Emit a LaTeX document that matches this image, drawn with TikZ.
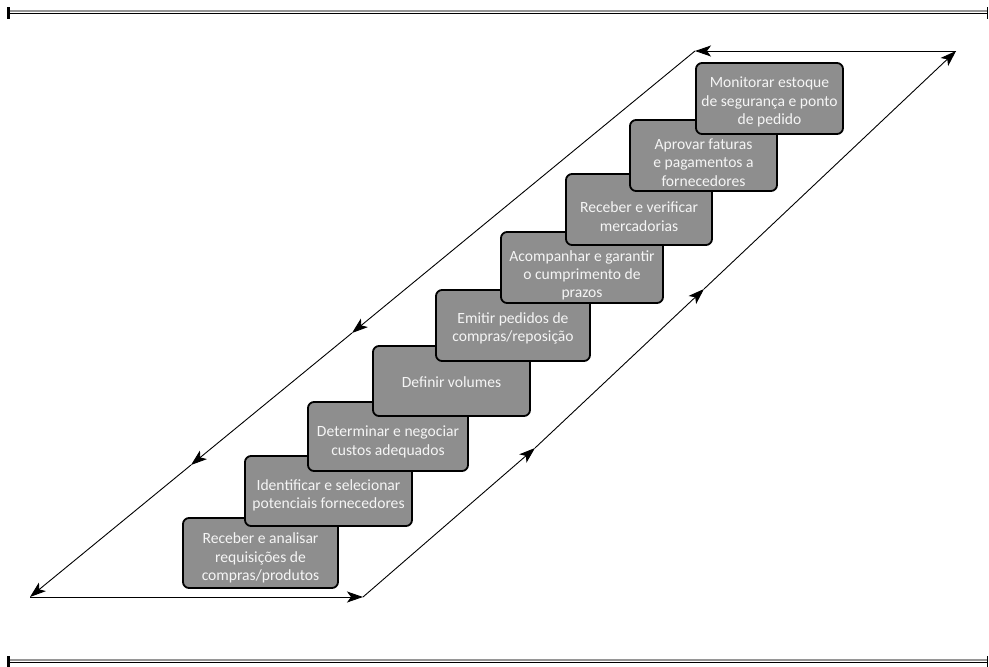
\documentclass[tikz,border=0pt]{standalone}
\usepackage{fontspec}
\setmainfont{Carlito}
\usetikzlibrary{arrows.meta}
\definecolor{boxgray}{RGB}{142,142,142}
\definecolor{rulegray}{RGB}{150,150,150}
\tikzset{
  stepbox/.style={draw=black, line width=1.8pt, fill=boxgray, rounded corners=6pt, inner sep=0pt},
  steptext/.style={text=white!96!black, align=center, inner sep=0pt,
    font=\fontsize{15.6}{18.3}\selectfont},
  arr/.style={draw=black, line width=0.9pt, -{Stealth[length=16pt,width=11pt,inset=4pt]}},
}
\newcommand{\mkbox}[5]{% name, x1,y1,x2,y2
  \node[stepbox, minimum width=#4pt-#2pt, minimum height=#5pt-#3pt] (#1) at ({(#2+#4)/2},{(#3+#5)/2}) {};}
\newcommand{\mktext}[4]{% name, box, shift, text
  \node[steptext] (#1) at ([yshift=-#3pt]#2.center) {#4};}
\begin{document}
\begin{tikzpicture}[x=1pt,y=-1pt]
\useasboundingbox (0,0) rectangle (989,667);
% rules
\coordinate (TL) at (8.5,12.5); \coordinate (TR) at (987.5,12.5);
\coordinate (BL) at (8.5,661.5); \coordinate (BR) at (987.5,661.5);
\draw[rulegray, line width=2pt] ([yshift=1.2pt]TL) -- ([yshift=1.2pt]TR);
\draw[black, line width=1.3pt] ([yshift=-1.2pt]TL) -- ([yshift=-1.2pt]TR);
\draw[rulegray, line width=2pt] ([yshift=1.2pt]BL) -- ([yshift=1.2pt]BR);
\draw[black, line width=1.3pt] ([yshift=-1.2pt]BL) -- ([yshift=-1.2pt]BR);
\draw[black, line width=2.5pt] ([yshift=-6pt]TL) -- ([yshift=6pt]TL);
\draw[black, line width=1.5pt] ([yshift=-6pt]TR) -- ([yshift=6pt]TR);
\draw[black, line width=2.5pt] ([yshift=-6pt]BL) -- ([yshift=6pt]BL);
\draw[black, line width=1.5pt] ([yshift=-6pt]BR) -- ([yshift=6pt]BR);
% boxes (lower first, upper drawn over)
\mkbox{b1}{183}{518}{338}{588}
\mkbox{b2}{245}{456}{412}{526}
\mkbox{b3}{308}{402}{468}{471}
\mkbox{b4}{373}{346}{530}{416}
\mkbox{b5}{436}{290}{590}{361}
\mkbox{b6}{501}{232}{663}{303}
\mkbox{b7}{566}{174}{712}{245}
\mkbox{b8}{630}{120}{777}{191}
\mkbox{b9}{696}{63}{843}{134}
% texts
\mktext{t1}{b1}{5}{Receber e analisar\\requisições de\\compras/produtos}
\mktext{t2}{b2}{4.5}{Identificar e selecionar\\potenciais fornecedores}
\mktext{t3}{b3}{5.5}{Determinar e negociar\\custos adequados}
\mktext{t4}{b4}{1}{Definir volumes}
\mktext{t5}{b5}{3}{Emitir pedidos de\\compras/reposição}
\mktext{t6}{b6}{8}{Acompanhar e garantir\\o cumprimento de\\prazos}
\mktext{t7}{b7}{7}{Receber e verificar\\mercadorias}
\mktext{t8}{b8}{7}{Aprovar faturas\\e pagamentos a\\fornecedores}
\mktext{t9}{b9}{3.5}{Monitorar estoque\\de segurança e ponto\\de pedido}
% cycle
\coordinate (P1) at (30,597);
\coordinate (P2) at (363,597);
\coordinate (M1) at (535,448);
\coordinate (M2) at (704,289);
\coordinate (P3) at (956,51);
\coordinate (P4) at (695,51);
\coordinate (L1) at (352,333);
\coordinate (L2) at (191,465);
\draw[arr] (P1) -- (P2);
\draw[arr] (P2) -- (M1);
\draw[arr] (M1) -- (M2);
\draw[arr] (M2) -- (P3);
\draw[arr] (P3) -- (P4);
\draw[arr] (P4) -- (L1);
\draw[arr] (L1) -- (L2);
\draw[arr] (L2) -- (P1);
\end{tikzpicture}
\end{document}
